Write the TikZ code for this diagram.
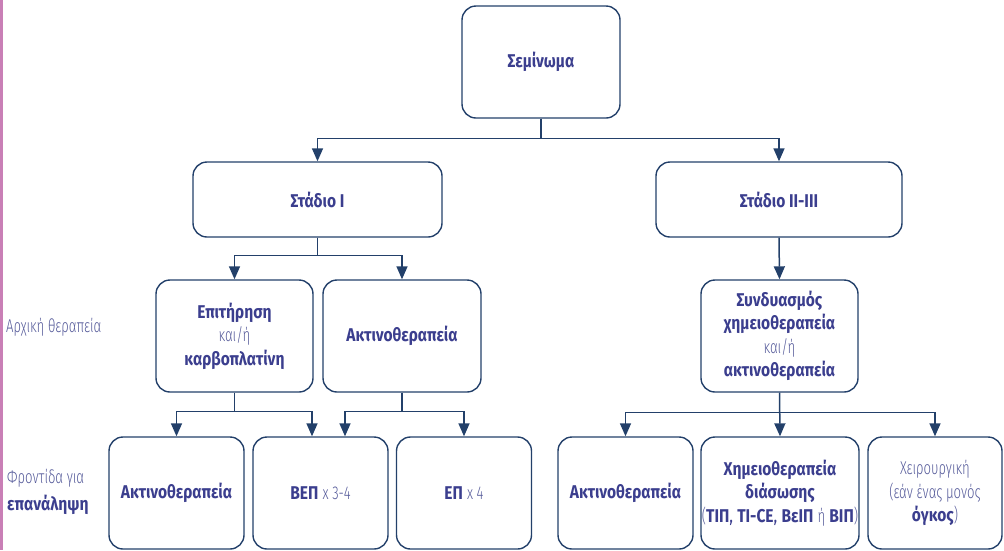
\documentclass[tikz,border=0pt]{standalone}
\usepackage{fontspec}
\setmainfont{Fira Sans}[FakeStretch=0.84]
\newfontfamily\lightfont{Fira Sans Light}[FakeStretch=0.71]
\usetikzlibrary{arrows.meta}
\definecolor{navy}{HTML}{23406A}
\definecolor{ink}{HTML}{3B3E8E}
\definecolor{softink}{HTML}{565B9A}
\definecolor{barpink}{HTML}{C97FB6}
\newcommand{\lt}[1]{{\lightfont\color{softink}#1}}
\tikzset{
  box/.style={draw=navy,line width=1.4pt,rounded corners=14pt,align=center,inner sep=0pt,
    text=ink,font=\fontsize{18.5}{23.5}\selectfont,minimum height=112pt},
  link/.style={draw=navy,line width=1.5pt,-{Triangle[width=11pt,length=13pt]}},
  sidelabel/.style={anchor=west,align=left,inner sep=0pt,text=softink,font=\fontsize{18.5}{27}\selectfont},
}
\begin{document}
\begin{tikzpicture}[x=1pt,y=-1pt]
      \useasboundingbox (0,0) rectangle (1004,550);
      \fill[barpink] (0,0) rectangle (2.5,550);
      \node[box,minimum width=158pt] (sem) at (541,62) {\textbf{Σεμίνωμα}};
      \node[box,minimum width=249pt,minimum height=75pt] (st1) at (317.5,199.5) {\textbf{Στάδιο I}};
      \node[box,minimum width=246pt,minimum height=75pt] (st2) at (779,199.5) {\textbf{Στάδιο II-III}};
      \node[box,minimum width=157pt] (epit) at (234.5,336) {\textbf{Επιτήρηση}\\ \lt{και/ή}\\ \textbf{καρβοπλατίνη}};
      \node[box,minimum width=158pt] (aktA) at (402,336) {\textbf{Ακτινοθεραπεία}};
      \node[box,minimum width=157pt] (comb) at (779.5,336) {\textbf{Συνδυασμός}\\ \textbf{χημειοθεραπεία}\\ \lt{και/ή}\\ \textbf{ακτινοθεραπεία}};
      \node[box,minimum width=135pt] (akt1) at (176.5,493) {\textbf{Ακτινοθεραπεία}};
      \node[box,minimum width=135pt] (bep) at (320.5,493) {\textbf{ΒΕΠ} \lt{x 3-4}};
      \node[box,minimum width=135pt] (ep) at (464,493) {\textbf{ΕΠ} \lt{x 4}};
      \node[box,minimum width=135pt] (akt2) at (625.5,493) {\textbf{Ακτινοθεραπεία}};
      \node[box,minimum width=158pt] (chemo) at (780,493) {\textbf{Χημειοθεραπεία}\\ \textbf{διάσωσης}\\ \lt{(}\textbf{ΤΙΠ}, \textbf{TI-CE}, \textbf{ΒεΙΠ} \lt{ή} \textbf{ΒΙΠ}\lt{)}};
      \node[box,minimum width=134pt] (surg) at (935,493) {\lt{Χειρουργική}\\ \lt{(εάν ένας μονός}\\ \textbf{όγκος}\lt{)}};
      \node[sidelabel] (first) at (6,327) {\lt{Αρχική θεραπεία}};
      \node[sidelabel] (relapse) at (7,492) {\lt{Φροντίδα για}\\ {\color{ink}\textbf{επανάληψη}}};
      \draw[link] (sem.south) -- ++(0,20) -| (st1.north);
      \draw[link] (sem.south) -- ++(0,20) -| (st2.north);
      \draw[link] (st1.south) -- ++(0,18) -| (epit.north);
      \draw[link] (st1.south) -- ++(0,18) -| (aktA.north);
      \draw[link] (st2.south) -- (comb.north);
      \draw[link] (epit.south) -- ++(0,19) -| (akt1.north);
      \draw[link] (epit.south) -- ++(0,19) -| ([xshift=-8.5pt]bep.north);
      \draw[link] (aktA.south) -- ++(0,19) -| ([xshift=24.5pt]bep.north);
      \draw[link] (aktA.south) -- ++(0,19) -| (ep.north);
      \draw[link] (comb.south) -- ++(0,20) -| (akt2.north);
      \draw[link] (comb.south) -- (chemo.north);
      \draw[link] (comb.south) -- ++(0,20) -| (surg.north);
    \end{tikzpicture}
\end{document}
